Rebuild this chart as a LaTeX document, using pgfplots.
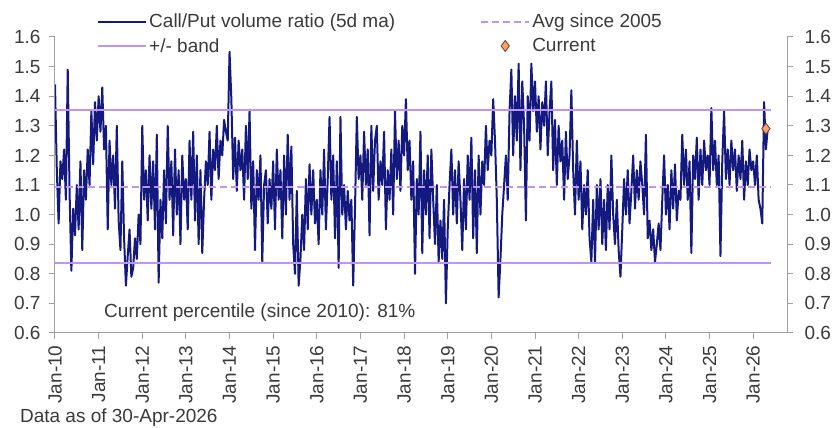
\documentclass[border=0pt]{standalone}
\usepackage{pgfplots}
\pgfplotsset{compat=1.18}
\usepackage{pgfplotstable}
\usepackage{fontspec}
\setmainfont{Liberation Sans}
\definecolor{navyline}{HTML}{14197F}
\definecolor{bandcol}{HTML}{BC96F2}
\definecolor{axisgray}{HTML}{A0A0A0}
\definecolor{txtgray}{HTML}{3A3A3A}
\definecolor{dfill}{HTML}{F2A273}
\definecolor{dedge}{HTML}{7A3B22}
\pgfplotsset{
  linelegend/.style={legend image code/.code={\draw[##1] (0pt,0pt) -- (48pt,0pt);}},
  marklegend/.style={legend image code/.code={\draw[mark repeat=2, mark phase=2, ##1] plot coordinates {(0pt,0pt) (24pt,0pt) (48pt,0pt)};}},
}

% Call/Put volume ratio (5d ma), two readings per month from Jan-2010
\pgfplotstableread[row sep=\\]{
y\\
1.44\\1.15\\0.97\\1.18\\1.12\\1.22\\1.05\\1.49\\1.08\\0.81\\1.02\\0.93\\
1.10\\0.95\\1.18\\0.88\\1.15\\1.05\\1.22\\1.10\\1.35\\1.17\\1.38\\1.25\\
1.40\\1.28\\1.43\\1.22\\1.30\\0.95\\1.25\\1.10\\1.20\\1.02\\1.30\\0.98\\
0.88\\1.18\\0.92\\0.76\\0.86\\0.95\\0.79\\0.82\\0.92\\0.85\\1.00\\0.90\\
1.30\\1.05\\1.15\\0.98\\1.20\\1.02\\1.18\\0.95\\1.27\\0.77\\1.05\\0.92\\
1.15\\0.97\\1.30\\1.05\\1.18\\0.93\\1.22\\1.00\\1.15\\0.90\\1.20\\1.05\\
1.12\\0.95\\1.25\\1.05\\1.28\\0.98\\1.20\\0.90\\1.15\\0.87\\1.05\\1.18\\
1.10\\1.28\\1.05\\1.22\\1.15\\1.30\\1.12\\1.25\\1.20\\1.32\\1.28\\1.25\\
1.55\\1.39\\1.12\\1.26\\1.08\\1.25\\1.15\\1.22\\1.05\\1.30\\1.12\\1.35\\
1.02\\1.18\\0.88\\1.15\\1.05\\1.20\\0.84\\1.10\\1.15\\0.97\\1.12\\1.02\\
1.18\\0.95\\1.22\\1.05\\1.15\\0.92\\1.20\\1.00\\1.27\\1.05\\1.23\\0.90\\
0.80\\1.08\\0.76\\0.85\\1.00\\0.88\\1.12\\0.95\\1.17\\1.00\\1.15\\0.97\\
1.05\\0.90\\1.15\\1.00\\1.22\\0.95\\1.12\\1.33\\1.05\\1.20\\0.92\\1.18\\
0.82\\1.33\\1.00\\1.10\\0.95\\1.08\\0.98\\1.05\\0.76\\1.02\\1.33\\1.12\\
1.20\\1.05\\1.28\\1.10\\1.22\\0.93\\1.30\\1.08\\1.25\\1.30\\1.05\\1.18\\
1.10\\1.28\\0.95\\1.15\\1.05\\1.22\\1.00\\1.35\\1.12\\1.25\\1.08\\1.30\\
1.20\\1.39\\1.15\\1.25\\1.05\\1.18\\0.80\\1.12\\1.00\\1.28\\0.87\\1.15\\
1.00\\1.20\\0.92\\1.22\\1.05\\0.90\\1.10\\0.84\\0.98\\0.85\\1.05\\0.70\\
0.95\\1.10\\1.22\\1.00\\1.15\\0.97\\1.18\\1.05\\0.88\\1.12\\0.95\\1.20\\
1.05\\1.26\\0.92\\1.15\\0.87\\1.20\\1.00\\1.18\\1.10\\1.30\\1.15\\1.25\\
1.20\\1.39\\1.25\\1.05\\0.72\\0.85\\1.00\\1.10\\1.20\\1.05\\1.35\\1.49\\
1.20\\1.40\\1.25\\1.51\\1.15\\1.45\\1.30\\0.98\\1.40\\1.25\\1.51\\1.35\\
1.45\\1.28\\1.40\\1.22\\1.38\\1.30\\1.45\\1.20\\1.35\\1.45\\1.15\\1.32\\
1.10\\1.30\\1.18\\1.25\\1.05\\1.28\\1.12\\1.20\\1.42\\1.15\\1.00\\1.25\\
1.05\\1.18\\0.95\\1.10\\1.00\\1.15\\0.92\\0.84\\1.05\\0.84\\1.10\\0.95\\
1.12\\0.90\\1.05\\0.88\\1.10\\0.95\\1.20\\1.00\\0.90\\1.05\\0.88\\0.79\\
0.95\\1.12\\1.00\\1.15\\0.97\\1.08\\1.20\\1.02\\1.15\\1.05\\1.18\\1.10\\
1.00\\1.27\\0.92\\0.98\\0.88\\0.95\\0.84\\0.90\\0.97\\0.88\\1.05\\1.20\\
1.00\\1.10\\0.95\\1.15\\1.02\\1.17\\0.98\\1.08\\1.05\\1.27\\1.10\\1.22\\
1.05\\1.18\\0.87\\1.20\\1.12\\1.26\\1.05\\1.22\\1.10\\1.25\\1.15\\1.20\\
1.10\\1.36\\1.15\\1.25\\1.10\\1.20\\0.86\\1.18\\1.35\\1.12\\1.22\\1.10\\
1.25\\1.15\\1.22\\1.08\\1.20\\1.12\\1.25\\1.05\\1.18\\1.10\\1.22\\1.15\\
1.18\\1.10\\1.20\\1.05\\1.02\\0.97\\1.38\\1.22\\1.29\\
}\cpdata

\begin{document}
\begin{tikzpicture}[font=\fontsize{19}{22}\selectfont]
\path[use as bounding box] (0,0) rectangle (833pt,428pt);
\begin{axis}[
  at={(55pt,95pt)}, anchor=south west,
  scale only axis, width=732pt, height=296pt,
  xmin=0, xmax=402.6, ymin=0.6, ymax=1.6,
  clip mode=individual,
  axis x line*=bottom, axis y line*=left,
  axis line style={axisgray, line width=1pt},
  every tick/.style={axisgray, line width=1pt},
  tick align=outside, major tick length=6pt,
  xtick={0,24,48,72,96,120,144,168,192,216,240,264,288,312,336,360,384},
  xticklabels={Jan-10,Jan-11,Jan-12,Jan-13,Jan-14,Jan-15,Jan-16,Jan-17,Jan-18,Jan-19,Jan-20,Jan-21,Jan-22,Jan-23,Jan-24,Jan-25,Jan-26},
  xticklabel style={rotate=90, anchor=east, text=txtgray, xshift=-3pt},
  ytick={0.6,0.7,0.8,0.9,1.0,1.1,1.2,1.3,1.4,1.5,1.6},
  yticklabel style={text=txtgray, xshift=-5pt, /pgf/number format/.cd, fixed, fixed zerofill, precision=1},
  /pgf/number format/assume math mode=true,
  legend columns=2, legend cell align=left,
  legend style={draw=none, fill=none, at={(0.0574,1.085)}, anchor=north west,
    inner sep=0pt, text=txtgray, font=\fontsize{19}{22}\selectfont,
    /tikz/every even column/.append style={column sep=83pt}, row sep=5pt},
  linelegend,
]
\addplot[navyline, line width=2pt, line join=round] table[x expr=\coordindex, y=y] {\cpdata};
\addlegendentry{Call/Put volume ratio (5d ma)}
\addplot[bandcol, line width=2pt, dash pattern=on 7pt off 4pt] coordinates {(0,1.093) (394,1.093)};
\addlegendentry{Avg since 2005}
\addplot[bandcol, line width=2pt] coordinates {(0,1.355) (394,1.355)};
\addlegendentry{+/- band}
\addplot[bandcol, line width=2pt, forget plot] coordinates {(0,0.835) (394,0.835)};
\addplot[only marks, mark=diamond*, mark size=5.5pt, mark options={fill=dfill, draw=dedge, line width=0.8pt}, marklegend]
  coordinates {(391,1.29)};
\addlegendentry{Current}
\node[anchor=west, inner sep=0pt, text=txtgray] at (rel axis cs:0.067,0.0676) {Current percentile (since 2010): 81\%};
\node[anchor=west, inner sep=0pt, text=txtgray] at (rel axis cs:-0.048,-0.285) {Data as of 30-Apr-2026};
\end{axis}
\begin{axis}[
  at={(55pt,95pt)}, anchor=south west,
  scale only axis, width=732pt, height=296pt,
  xmin=0, xmax=402.6, ymin=0.6, ymax=1.6,
  axis x line=none, axis y line*=right,
  axis line style={axisgray, line width=1pt},
  every tick/.style={axisgray, line width=1pt},
  tick align=outside, major tick length=6pt,
  ytick={0.6,0.7,0.8,0.9,1.0,1.1,1.2,1.3,1.4,1.5,1.6},
  yticklabel style={text=txtgray, xshift=8pt, /pgf/number format/.cd, fixed, fixed zerofill, precision=1},
  /pgf/number format/assume math mode=true,
]
\addplot[draw=none, forget plot] coordinates {(0,1)};
\end{axis}
\end{tikzpicture}
\end{document}
